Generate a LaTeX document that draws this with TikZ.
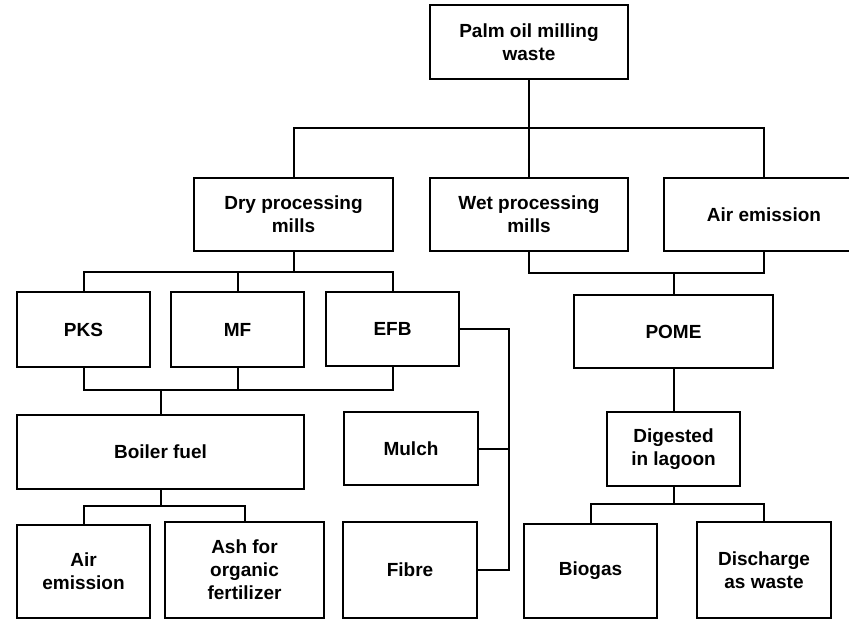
\documentclass[tikz,border=0pt]{standalone}
\usepackage{fontspec}
\setmainfont{Liberation Sans}
\begin{document}
\begin{tikzpicture}[x=1pt,y=-1pt,
  box/.style={draw, line width=2.2pt, inner sep=0pt, outer sep=0pt, align=center,
    font=\fontsize{19}{23}\selectfont\bfseries},
  link/.style={line width=2pt}]
\useasboundingbox (0,0) rectangle (849,620);
\clip (0,0) rectangle (849,620);

% first level
\node[box, minimum width=198, minimum height=74] (top) at (529,42) {Palm oil milling\\waste};

% second level
\node[box, minimum width=199, minimum height=73] (dry) at (293.5,214.5) {Dry processing\\mills};
\node[box, minimum width=198, minimum height=73] (wet) at (529,214.5) {Wet processing\\mills};
\node[box, minimum width=200, minimum height=73] (airtop) at (764,214.5) {Air emission};

% dry processing outputs
\node[box, minimum width=133, minimum height=75] (pks) at (83.5,329.5) {PKS};
\node[box, minimum width=133, minimum height=75] (mf) at (237.5,329.5) {MF};
\node[box, minimum width=133, minimum height=74] (efb) at (392.5,329) {EFB};

% wet processing output
\node[box, minimum width=199, minimum height=73] (pome) at (673.5,331.5) {POME};

% fourth level
\node[box, minimum width=287, minimum height=74] (boiler) at (160.5,452) {Boiler fuel};
\node[box, minimum width=134, minimum height=73] (mulch) at (411,448.5) {Mulch};
\node[box, minimum width=133, minimum height=74] (lagoon) at (673.5,449) {Digested\\in lagoon};

% bottom row
\node[box, minimum width=133, minimum height=93] (airbot) at (83.5,571.5) {Air\\emission};
\node[box, minimum width=159, minimum height=96] (ash) at (244.5,570) {Ash for\\organic\\fertilizer};
\node[box, minimum width=134, minimum height=96] (fibre) at (410,570) {Fibre};
\node[box, minimum width=133, minimum height=94] (biogas) at (590.5,571) {Biogas};
\node[box, minimum width=134, minimum height=96] (discharge) at (764,570) {Discharge\\as waste};

% connectors from the top
\draw[link] (top.south) -- (wet.north);
\draw[link] (dry.north) -- ++(0,-50) -| (airtop.north);

% dry processing branches
\draw[link] (dry.south) -- ++(0,21);
\draw[link] (pks.north) -- ++(0,-20) -| (efb.north);
\draw[link] (mf.north) -- ++(0,-20);
\draw[link] (pks.south) -- ++(0,23) -| (efb.south);
\draw[link] (mf.south) -- ++(0,23);
\draw[link] (boiler.north) -- ++(0,-25);

% boiler fuel products
\draw[link] (boiler.south) -- ++(0,17);
\draw[link] (airbot.north) -- ++(0,-19) -| (ash.north);

% EFB uses
\draw[link] (efb.east) -- ++(50,0) coordinate (efbr) |- (fibre.east);
\draw[link] (mulch.east) -- (efbr |- mulch.east);

% wet side
\draw[link] (wet.south) -- ++(0,22) -| (airtop.south);
\draw[link] (pome.north) -- ++(0,-22);
\draw[link] (pome.south) -- (lagoon.north);
\draw[link] (lagoon.south) -- ++(0,18);
\draw[link] (biogas.north) -- ++(0,-20) -| (discharge.north);
\end{tikzpicture}
\end{document}
